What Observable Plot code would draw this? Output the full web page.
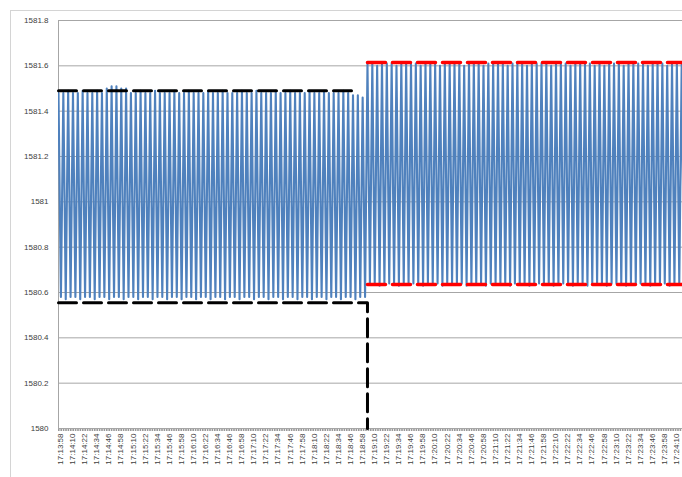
<!DOCTYPE html>
<html>
<head>
<meta charset="utf-8">
<script src="https://cdn.jsdelivr.net/npm/d3@7"></script>
<script src="https://cdn.jsdelivr.net/npm/@observablehq/plot@0.6"></script>
<style>
  html, body { margin: 0; padding: 0; background: #ffffff; }
  #wrap { position: relative; width: 682px; height: 477px; overflow: hidden; }
  #frame { position: absolute; left: 10px; top: 10px; width: 700px; height: 500px;
           border-top: 1px solid #d4d4d4; border-left: 1px solid #d4d4d4; pointer-events: none; }
</style>
</head>
<body>
<div id="wrap"><div id="frame"></div></div>
<script>
// ---- data ----
const tickLabels = ["17:13:58","17:14:10","17:14:22","17:14:34","17:14:46","17:14:58","17:15:10","17:15:22","17:15:34","17:15:46","17:15:58","17:16:10","17:16:22","17:16:34","17:16:46","17:16:58","17:17:10","17:17:22","17:17:34","17:17:46","17:17:58","17:18:10","17:18:22","17:18:34","17:18:46","17:18:58","17:19:10","17:19:22","17:19:34","17:19:46","17:19:58","17:20:10","17:20:22","17:20:34","17:20:46","17:20:58","17:21:10","17:21:22","17:21:34","17:21:46","17:21:58","17:22:10","17:22:22","17:22:34","17:22:46","17:22:58","17:23:10","17:23:22","17:23:34","17:23:46","17:23:58","17:24:10"];
const yTicks = [1580, 1580.2, 1580.4, 1580.6, 1580.8, 1581, 1581.2, 1581.4, 1581.6, 1581.8];
const yTickLabels = ["1580","1580.2","1580.4","1580.6","1580.8","1581","1581.2","1581.4","1581.6","1581.8"];

// segment times (seconds after 17:13:58)
const leftStart = -2, switchTime = 305, rightEnd = 622;

// oscillation extremes, first segment
const leftPeaks = [1581.48,1581.48,1581.49,1581.48,1581.48,1581.49,1581.48,1581.48,1581.49,1581.48,
  1581.50,1581.51,1581.51,1581.50,1581.50,1581.48,1581.48,1581.49,1581.48,1581.48,
  1581.49,1581.48,1581.48,1581.48,1581.49,1581.48,1581.48,1581.49,1581.48,1581.48,
  1581.48,1581.49,1581.48,1581.48,1581.49,1581.48,1581.48,1581.48,1581.49,1581.48,
  1581.48,1581.49,1581.48,1581.48,1581.48,1581.49,1581.48,1581.48,1581.49,1581.48,
  1581.48,1581.48,1581.49,1581.48,1581.48,1581.49,1581.48,1581.48,1581.48,1581.49,
  1581.48,1581.47,1581.47,1581.46];
const leftTroughs = [1580.58,1580.57,1580.58,1580.58,1580.57,1580.58,1580.58,1580.57,1580.58,1580.58,
  1580.57,1580.58,1580.58,1580.57,1580.58,1580.58,1580.57,1580.58,1580.58,1580.57,
  1580.58,1580.58,1580.57,1580.58,1580.58,1580.57,1580.58,1580.58,1580.57,1580.58,
  1580.58,1580.57,1580.58,1580.58,1580.57,1580.58,1580.58,1580.57,1580.58,1580.58,
  1580.57,1580.58,1580.58,1580.57,1580.58,1580.58,1580.57,1580.58,1580.58,1580.57,
  1580.58,1580.58,1580.57,1580.58,1580.58,1580.57,1580.58,1580.58,1580.57,1580.58,
  1580.58,1580.57,1580.58,1580.58];
// oscillation extremes, second segment
const rightPeaks = [1581.61,1581.61,1581.60,1581.61,1581.61,1581.61,1581.60,1581.61,1581.61,1581.61,
  1581.61,1581.60,1581.61,1581.61,1581.61,1581.60,1581.61,1581.61,1581.61,1581.61,
  1581.60,1581.61,1581.61,1581.61,1581.60,1581.61,1581.61,1581.61,1581.61,1581.60,
  1581.61,1581.61,1581.61,1581.60,1581.61,1581.61,1581.61,1581.61,1581.60,1581.61,
  1581.61,1581.61,1581.60,1581.61,1581.61,1581.61,1581.61,1581.60,1581.61,1581.60,
  1581.61,1581.61,1581.61,1581.60,1581.61,1581.61,1581.61,1581.61,1581.60,1581.61,
  1581.61,1581.61,1581.60,1581.61,1581.61,1581.61];
const rightTroughs = [1580.64,1580.64,1580.63,1580.64,1580.64,1580.64,1580.63,1580.64,1580.64,1580.64,
  1580.64,1580.63,1580.64,1580.64,1580.64,1580.63,1580.64,1580.64,1580.64,1580.64,
  1580.63,1580.64,1580.64,1580.64,1580.63,1580.64,1580.64,1580.64,1580.64,1580.63,
  1580.64,1580.64,1580.64,1580.63,1580.64,1580.64,1580.64,1580.64,1580.63,1580.64,
  1580.64,1580.64,1580.63,1580.64,1580.64,1580.63,1580.64,1580.64,1580.64,1580.63,
  1580.64,1580.64,1580.64,1580.63,1580.64,1580.64,1580.64,1580.64,1580.63,1580.64,
  1580.64,1580.64,1580.63,1580.64,1580.64,1580.64];

// envelope reference levels
const leftMax = 1581.49, leftMin = 1580.555, rightMax = 1581.615, rightMin = 1580.635;
const leftMaxEnd = 296;

// ---- build tables ----
function secs(s) { const [h, m, x] = s.split(":").map(Number); return h * 3600 + m * 60 + x; }
const t0 = secs(tickLabels[0]);
const tickSecs = tickLabels.map(s => secs(s) - t0);
const tickMap = new Map(tickSecs.map((t, i) => [t, tickLabels[i]]));
const yMap = new Map(yTicks.map((v, i) => [v, yTickLabels[i]]));

const series = [];
function addSegment(peaks, troughs, start, step) {
  const n = Math.min(peaks.length, troughs.length);
  for (let i = 0; i < n; i++) {
    series.push({t: start + (2 * i) * step, v: peaks[i]});
    series.push({t: start + (2 * i + 1) * step, v: troughs[i]});
  }
}
addSegment(leftPeaks, leftTroughs, leftStart, (switchTime - leftStart) / (2 * leftPeaks.length));
addSegment(rightPeaks, rightTroughs, switchTime, (rightEnd - switchTime) / (2 * rightPeaks.length));

const blackLines = [
  {t: leftStart, v: leftMax, k: "a"}, {t: leftMaxEnd, v: leftMax, k: "a"},
  {t: leftStart, v: leftMin, k: "b"}, {t: switchTime, v: leftMin, k: "b"}, {t: switchTime, v: 1580, k: "b"}
];
const redLines = [
  {t: switchTime, v: rightMax, k: "a"}, {t: rightEnd, v: rightMax, k: "a"},
  {t: switchTime, v: rightMin, k: "b"}, {t: rightEnd, v: rightMin, k: "b"}
];

const chart = Plot.plot({
  width: 682, height: 477,
  marginLeft: 58, marginRight: 0, marginTop: 20, marginBottom: 49,
  style: {fontFamily: "'Liberation Sans', Arial, sans-serif", fontSize: "8px", background: "transparent", color: "#404040"},
  x: {type: "linear", domain: [-2, 618]},
  y: {domain: [1580, 1581.8]},
  marks: [
    Plot.ruleY(yTicks.slice(1), {stroke: "#a6a6a6", strokeWidth: 1}),
    Plot.ruleX([-2], {stroke: "#a6a6a6", strokeWidth: 1}),
    Plot.line(series, {x: "t", y: "v", stroke: "#4f81bd", strokeWidth: 2.1, clip: true}),
    Plot.ruleY([1580], {stroke: "#a6a6a6", strokeWidth: 1}),
    Plot.ruleY([1580], {stroke: "#9a9a9a", strokeWidth: 2, dy: 1.5, strokeDasharray: "1.6,0.8"}),
    Plot.line(blackLines, {x: "t", y: "v", z: "k", stroke: "#000000", strokeWidth: 3, strokeDasharray: "18,7"}),
    Plot.line(redLines, {x: "t", y: "v", z: "k", stroke: "#ff0000", strokeWidth: 3.5, strokeDasharray: "18,7", clip: true}),
    Plot.axisY(yTicks, {tickSize: 0, tickPadding: 10, tickFormat: d => yMap.get(d), fill: "#404040", label: null}),
    Plot.axisX(tickSecs, {tickSize: 0, tickPadding: 5, tickRotate: -90, tickFormat: d => tickMap.get(d), fill: "#404040", label: null})
  ]
});
document.getElementById("wrap").prepend(chart);
chart.style.position = "absolute";
chart.style.left = "0px";
chart.style.top = "0px";
</script>
</body>
</html>
